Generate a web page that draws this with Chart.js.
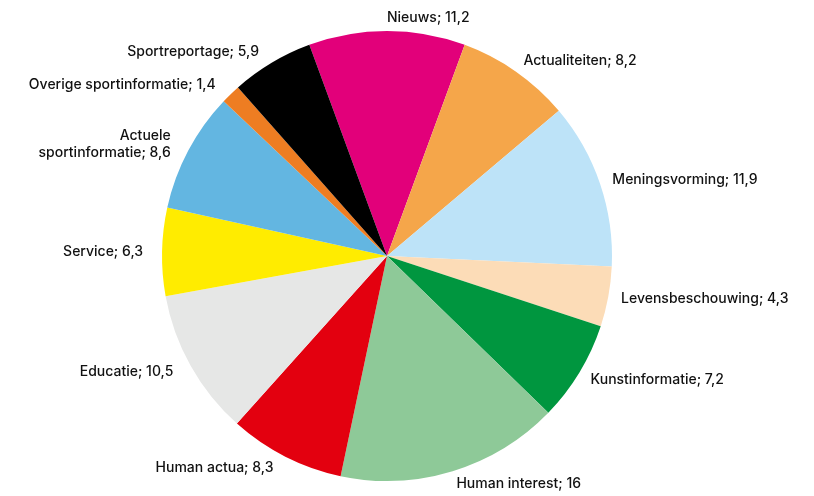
<!DOCTYPE html>
<html>
<head>
<meta charset="utf-8">
<script src="https://cdn.jsdelivr.net/npm/chart.js@4"></script>
<style>
  html, body { margin: 0; padding: 0; background: #fff; }
  #wrap { width: 814px; height: 496px; }
</style>
</head>
<body>
<div id="wrap"><canvas id="pieChart" width="814" height="496"></canvas></div>
<script>
const categories = [
  "Nieuws", "Actualiteiten", "Meningsvorming", "Levensbeschouwing",
  "Kunstinformatie", "Human interest", "Human actua", "Educatie",
  "Service", "Actuele\nsportinformatie", "Overige sportinformatie", "Sportreportage"
];
const shares = [11.2, 8.2, 11.9, 4.3, 7.2, 16, 8.3, 10.5, 6.3, 8.6, 1.4, 5.9];
const colors = [
  "#e2007a", "#f5a64a", "#bde3f8", "#fcdcb7",
  "#00963f", "#8ec998", "#e3000f", "#e6e7e6",
  "#ffec00", "#63b6e1", "#ee7d22", "#000000"
];

// outside labels: "name; value" with comma decimals
const outsideLabels = {
  id: "outsideLabels",
  afterDatasetsDraw(chart) {
    const ctx = chart.ctx;
    const meta = chart.getDatasetMeta(0);
    ctx.save();
    ctx.font = "500 14px Inter, 'Noto Sans', sans-serif";
    ctx.fillStyle = "#111";
    ctx.textBaseline = "middle";
    meta.data.forEach((arc, i) => {
      const mid = (arc.startAngle + arc.endAngle) / 2;
      const r = arc.outerRadius + 13;
      let x = arc.x + Math.cos(mid) * r;
      const y = arc.y + Math.sin(mid) * r;
      const right = x >= arc.x - 0.5;
      ctx.textAlign = right ? "left" : "right";
      x += right ? 0 : -6;
      const text = categories[i] + "; " + String(shares[i]).replace(".", ",");
      const lines = text.split("\n");
      const lh = 17;
      lines.forEach((line, k) => {
        ctx.fillText(line, x, y + (k - (lines.length - 1) / 2) * lh);
      });
    });
    ctx.restore();
  }
};

new Chart(document.getElementById("pieChart").getContext("2d"), {
  type: "pie",
  data: {
    labels: categories,
    datasets: [{
      data: shares,
      backgroundColor: colors,
      borderWidth: 0
    }]
  },
  options: {
    responsive: false,
    animation: false,
    rotation: -20.2,
    layout: { padding: { top: 31, bottom: 15, left: 0, right: 40 } },
    plugins: {
      legend: { display: false },
      tooltip: { enabled: false }
    }
  },
  plugins: [outsideLabels]
});
</script>
</body>
</html>
